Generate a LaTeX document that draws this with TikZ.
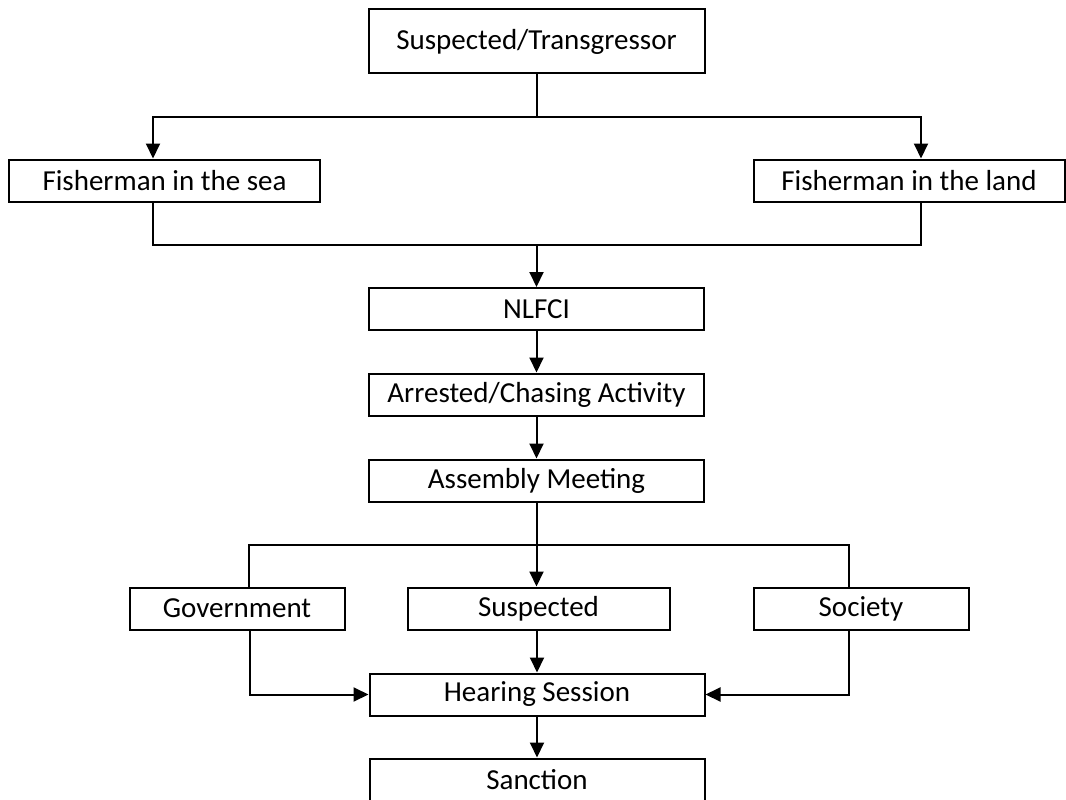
\documentclass[tikz,border=0pt]{standalone}
\usepackage{fontspec}
\setmainfont{Carlito}
\usetikzlibrary{arrows.meta}

\tikzset{
  box/.style={draw=black, line width=2pt, fill=white, inner sep=0pt,
    font=\fontsize{29}{34}\selectfont, text=black},
  wide/.style={box, minimum width=335pt, minimum height=42pt},
  side/.style={box, minimum width=311pt, minimum height=42pt},
  small/.style={box, minimum height=42pt},
  link/.style={line width=2pt, draw=black},
  arr/.style={link, -{Triangle[length=15pt,width=14pt]}},
}

\begin{document}
\begin{tikzpicture}[x=1pt,y=-1pt]
  \useasboundingbox (0,0) rectangle (1066,800);

  % boxes
  \node[box, minimum width=336pt, minimum height=64pt] (top) at (536.5,41.5) {Suspected/Transgressor};
  \node[side] (sea)  at (164.5,180.5) {Fisherman in the sea};
  \node[side] (land) at (909,180.5) {Fisherman in the land};
  \node[wide] (nlfci)    at (536.5,309) {NLFCI};
  \node[wide] (arrest)   at (536.5,394.5) {Arrested/Chasing Activity};
  \node[wide] (assembly) at (536.5,480.5) {Assembly Meeting};
  \node[small, minimum width=215pt] (gov)  at (237,608.5) {Government};
  \node[small, minimum width=262pt] (susp) at (538.5,608.5) {Suspected};
  \node[small, minimum width=215pt] (soc)  at (861,608.5) {Society};
  \node[wide] (hear)     at (537,694.5) {Hearing Session};
  \node[wide] (sanction) at (537,779.5) {Sanction};

  % junction points
  \coordinate (split) at (536.5,117);
  \coordinate (merge) at (536.5,245);
  \coordinate (fork)  at (536.5,545);

  % split to the two kinds of fisherman
  \draw[link] (top.south) -- (split);
  \draw[arr] (split) -| ([xshift=-11.5pt]sea.north);
  \draw[arr] (split) -| ([xshift=12pt]land.north);

  % merge into NLFCI
  \draw[link] ([xshift=-11.5pt]sea.south) |- (merge);
  \draw[link] ([xshift=12pt]land.south) |- (merge);
  \draw[arr] (merge) -- (nlfci.north);

  % main chain
  \draw[arr] (nlfci) -- (arrest);
  \draw[arr] (arrest) -- (assembly);
  \draw[arr] (assembly.south) -- (susp.north -| assembly.south);

  % fork to the three parties
  \draw[link] (fork) -| ([xshift=12pt]gov.north);
  \draw[link] (fork) -| ([xshift=-12pt]soc.north);

  % parties into the hearing
  \draw[arr] (susp.south -| hear.north) -- (hear.north);
  \draw[arr] ([xshift=13pt]gov.south) |- (hear.west);
  \draw[arr] ([xshift=-12pt]soc.south) |- (hear.east);
  \draw[arr] (hear) -- (sanction);
\end{tikzpicture}
\end{document}
